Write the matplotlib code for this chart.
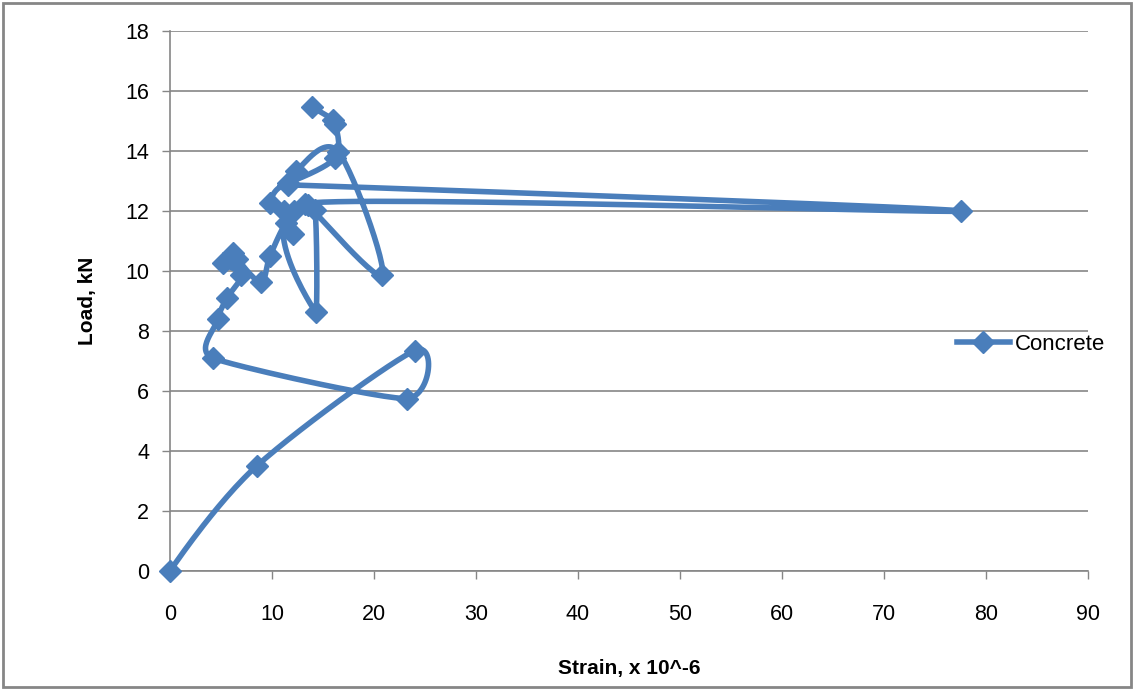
import numpy as np
import matplotlib.pyplot as plt
from matplotlib.patches import Rectangle

# Strain (x 10^-6) and load (kN) readings, in test order
strain = [0, 8.5, 24.0, 23.2, 4.2, 4.7, 5.6, 7.0, 5.2, 6.2, 6.6, 8.9, 9.8,
          11.4, 12.1, 11.2, 9.8, 11.6, 77.5, 13.2, 14.3, 14.2, 12.2, 13.5,
          20.8, 16.5, 12.4, 11.6, 16.2, 16.2, 16.0, 13.9]
load = [0, 3.5, 7.35, 5.75, 7.1, 8.4, 9.1, 9.87, 10.27, 10.6, 10.4, 9.63, 10.5,
        11.6, 11.25, 12.0, 12.27, 12.87, 12.0, 12.25, 8.63, 12.05, 12.0, 12.2,
        9.87, 13.97, 13.35, 12.95, 13.77, 14.9, 15.05, 15.47]

xticks = np.arange(0, 91, 10)
yticks = np.arange(0, 19, 2)
blue = "#4A7EBB"
grey = "#868686"


# Excel-style smoothed line, worked out in screen units (sx, sy = px per unit)
def smooth(x, y, sx=10.2, sy=30.0, n=30):
    p = np.column_stack([np.asarray(x) * sx, np.asarray(y) * sy]).astype(float)
    out = [p[0]]
    t = np.linspace(0, 1, n)[1:, None]

    def ctrl(a, b, c):
        # tangent at b, length capped by the neighbouring segments
        d = c - a
        dl = np.hypot(*d)
        if dl == 0:
            return np.zeros(2)
        L = min(dl / 6, np.hypot(*(b - a)) / 2, np.hypot(*(c - b)) / 2)
        return d / dl * L

    for i in range(len(p) - 1):
        p0 = p[i - 1] if i > 0 else p[i]
        p3 = p[i + 2] if i + 2 < len(p) else p[i + 1]
        c1 = p[i] + ctrl(p0, p[i], p[i + 1])
        c2 = p[i + 1] - ctrl(p[i], p[i + 1], p3)
        seg = ((1 - t) ** 3 * p[i] + 3 * (1 - t) ** 2 * t * c1
               + 3 * (1 - t) * t ** 2 * c2 + t ** 3 * p[i + 1])
        out.extend(seg)
    out = np.array(out)
    return out[:, 0] / sx, out[:, 1] / sy


plt.rcParams['font.family'] = ['Liberation Sans Narrow', 'Liberation Sans', 'DejaVu Sans']

fig = plt.figure(figsize=(11.34, 6.9), dpi=100)
ax = fig.add_axes([170 / 1134, 1 - 571 / 690, 918 / 1134, 540 / 690])

# chart border
fig.patches.append(Rectangle((3 / 1134, 3 / 690), 1128 / 1134, 684 / 690,
                             transform=fig.transFigure, fill=False,
                             edgecolor=grey, linewidth=2))

cx, cy = smooth(strain, load)
ax.plot(cx, cy, color=blue, linewidth=4, solid_capstyle='round', zorder=3)
ax.plot(strain, load, linestyle='none', marker='D', markersize=11,
        color=blue, zorder=4, clip_on=False)

ax.set_xlim(0, 90)
ax.set_ylim(0, 18)
ax.set_xticks(xticks)
ax.set_yticks(yticks)
ax.tick_params(axis='both', labelsize=15.5, length=6, color=grey, width=1)
ax.tick_params(axis='x', pad=18)
ax.tick_params(axis='y', pad=9)
ax.grid(axis='y', color=grey, linewidth=1.2)
for s in ['top', 'right']:
    ax.spines[s].set_visible(False)
for s in ['left', 'bottom']:
    ax.spines[s].set_color(grey)
    ax.spines[s].set_linewidth(1.2)

ax.set_xlabel("Strain, x 10^-6", fontsize=15, fontweight='bold', labelpad=24)
ax.set_ylabel("Load, kN", fontsize=15, fontweight='bold', labelpad=20)

h, = ax.plot([], [], color=blue, linewidth=4, marker='D', markersize=11,
             label="Concrete")
fig.legend(handles=[h], loc='center left', bbox_to_anchor=(0.826, 0.501),
           frameon=False, fontsize=16, handlelength=2.4, handletextpad=0.2)

fig.savefig("out.png", dpi=100)
